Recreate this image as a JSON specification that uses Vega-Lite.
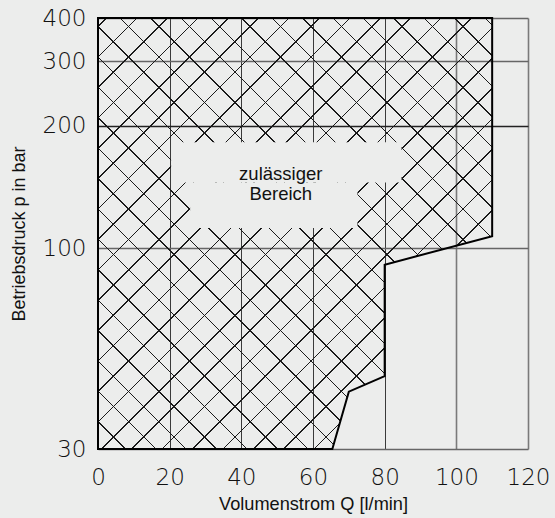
{
  "$schema": "https://vega.github.io/schema/vega-lite/v6.json",
  "width": 430,
  "height": 431,
  "autosize": {"type": "none"},
  "padding": {"left": 98, "top": 18, "right": 27, "bottom": 69},
  "background": "#ecedec",
  "config": {"view": {"stroke": null}},
  "datasets": {
    "region": [
      {"p": 30, "q": 65.4},
      {"p": 42.3, "q": 70},
      {"p": 46.4, "q": 80},
      {"p": 90.5, "q": 80},
      {"p": 106.9, "q": 110},
      {"p": 400, "q": 110}
    ],
    "cutout": [
      {"q": 20.4, "q2": 84.7, "p": 145, "p2": 182},
      {"q": 25.7, "q2": 72.4, "p": 112, "p2": 145}
    ],
    "label": [
      {"q": 51, "p": 152, "text": "zulässiger\nBereich"}
    ]
  },
  "encoding": {
    "x": {
      "field": "q",
      "type": "quantitative",
      "scale": {"domain": [0, 120], "nice": false, "zero": false},
      "axis": {
        "values": [0, 20, 40, 60, 80, 100, 120],
        "grid": true,
        "domain": false,
        "ticks": false,
        "tickSize": 0,
        "labelPadding": 17,
        "labelFlush": false,
        "labelOverlap": false,
        "labelFont": "DejaVu Sans",
        "labelFontWeight": 200,
        "labelFontSize": 23,
        "labelColor": "#111111",
        "title": "Volumenstrom Q [l/min]",
        "titleFont": "Liberation Sans",
        "titleFontSize": 18.2,
        "titleFontWeight": "normal",
        "titleColor": "#111111",
        "titleBaseline": "alphabetic",
        "titleY": 60.5,
        "gridColor": {"condition": {"test": "datum.value >= 100", "value": "#7a7a7a"}, "value": "#3a3a3a"},
        "gridWidth": {"condition": {"test": "datum.value >= 100", "value": 1.6}, "value": 1}
      }
    },
    "y": {
      "field": "p",
      "type": "quantitative",
      "scale": {"type": "log", "domain": [30, 100, 200, 300, 400], "range": [431, 230, 107.6, 43.3, 0], "nice": false},
      "axis": {
        "values": [30, 100, 200, 300, 400],
        "format": "d",
        "grid": true,
        "domain": false,
        "ticks": false,
        "tickSize": 0,
        "labelPadding": 12,
        "labelOverlap": false,
        "labelFlush": false,
        "labelFont": "DejaVu Sans",
        "labelFontWeight": 200,
        "labelFontSize": 23,
        "labelColor": "#111111",
        "title": "Betriebsdruck p in bar",
        "titleFont": "Liberation Sans",
        "titleFontSize": 18,
        "titleFontWeight": "normal",
        "titleColor": "#111111",
        "titleAngle": -90,
        "titleAlign": "center",
        "titleBaseline": "alphabetic",
        "titleX": -74,
        "titleY": 215.5,
        "gridColor": {"condition": {"test": "datum.value == 200", "value": "#222222"}, "value": "#666666"},
        "gridWidth": 1.3
      }
    }
  },
  "layer": [
    {
      "data": {"name": "region"},
      "mark": {
        "type": "area",
        "orient": "horizontal",
        "fill": {
          "gradient": "linear",
          "x1": 0, "y1": 0, "x2": 1, "y2": 1.09344,
          "stops": [
            {"offset": 0.00915, "color": "rgba(0,0,0,0)"}, {"offset": 0.00915, "color": "#1a1a1a"}, {"offset": 0.01095, "color": "#1a1a1a"}, {"offset": 0.01095, "color": "rgba(0,0,0,0)"},
            {"offset": 0.04428, "color": "rgba(0,0,0,0)"}, {"offset": 0.04428, "color": "#1a1a1a"}, {"offset": 0.04608, "color": "#1a1a1a"}, {"offset": 0.04608, "color": "rgba(0,0,0,0)"},
            {"offset": 0.07941, "color": "rgba(0,0,0,0)"}, {"offset": 0.07941, "color": "#1a1a1a"}, {"offset": 0.08121, "color": "#1a1a1a"}, {"offset": 0.08121, "color": "rgba(0,0,0,0)"},
            {"offset": 0.11453, "color": "rgba(0,0,0,0)"}, {"offset": 0.11453, "color": "#1a1a1a"}, {"offset": 0.11633, "color": "#1a1a1a"}, {"offset": 0.11633, "color": "rgba(0,0,0,0)"},
            {"offset": 0.14966, "color": "rgba(0,0,0,0)"}, {"offset": 0.14966, "color": "#1a1a1a"}, {"offset": 0.15146, "color": "#1a1a1a"}, {"offset": 0.15146, "color": "rgba(0,0,0,0)"},
            {"offset": 0.18479, "color": "rgba(0,0,0,0)"}, {"offset": 0.18479, "color": "#1a1a1a"}, {"offset": 0.18659, "color": "#1a1a1a"}, {"offset": 0.18659, "color": "rgba(0,0,0,0)"},
            {"offset": 0.21991, "color": "rgba(0,0,0,0)"}, {"offset": 0.21991, "color": "#1a1a1a"}, {"offset": 0.22171, "color": "#1a1a1a"}, {"offset": 0.22171, "color": "rgba(0,0,0,0)"},
            {"offset": 0.25504, "color": "rgba(0,0,0,0)"}, {"offset": 0.25504, "color": "#1a1a1a"}, {"offset": 0.25684, "color": "#1a1a1a"}, {"offset": 0.25684, "color": "rgba(0,0,0,0)"},
            {"offset": 0.29017, "color": "rgba(0,0,0,0)"}, {"offset": 0.29017, "color": "#1a1a1a"}, {"offset": 0.29197, "color": "#1a1a1a"}, {"offset": 0.29197, "color": "rgba(0,0,0,0)"},
            {"offset": 0.32529, "color": "rgba(0,0,0,0)"}, {"offset": 0.32529, "color": "#1a1a1a"}, {"offset": 0.32709, "color": "#1a1a1a"}, {"offset": 0.32709, "color": "rgba(0,0,0,0)"},
            {"offset": 0.36042, "color": "rgba(0,0,0,0)"}, {"offset": 0.36042, "color": "#1a1a1a"}, {"offset": 0.36222, "color": "#1a1a1a"}, {"offset": 0.36222, "color": "rgba(0,0,0,0)"},
            {"offset": 0.39555, "color": "rgba(0,0,0,0)"}, {"offset": 0.39555, "color": "#1a1a1a"}, {"offset": 0.39735, "color": "#1a1a1a"}, {"offset": 0.39735, "color": "rgba(0,0,0,0)"},
            {"offset": 0.43067, "color": "rgba(0,0,0,0)"}, {"offset": 0.43067, "color": "#1a1a1a"}, {"offset": 0.43247, "color": "#1a1a1a"}, {"offset": 0.43247, "color": "rgba(0,0,0,0)"},
            {"offset": 0.46580, "color": "rgba(0,0,0,0)"}, {"offset": 0.46580, "color": "#1a1a1a"}, {"offset": 0.46760, "color": "#1a1a1a"}, {"offset": 0.46760, "color": "rgba(0,0,0,0)"},
            {"offset": 0.50093, "color": "rgba(0,0,0,0)"}, {"offset": 0.50093, "color": "#1a1a1a"}, {"offset": 0.50273, "color": "#1a1a1a"}, {"offset": 0.50273, "color": "rgba(0,0,0,0)"},
            {"offset": 0.53605, "color": "rgba(0,0,0,0)"}, {"offset": 0.53605, "color": "#1a1a1a"}, {"offset": 0.53785, "color": "#1a1a1a"}, {"offset": 0.53785, "color": "rgba(0,0,0,0)"},
            {"offset": 0.57118, "color": "rgba(0,0,0,0)"}, {"offset": 0.57118, "color": "#1a1a1a"}, {"offset": 0.57298, "color": "#1a1a1a"}, {"offset": 0.57298, "color": "rgba(0,0,0,0)"},
            {"offset": 0.60631, "color": "rgba(0,0,0,0)"}, {"offset": 0.60631, "color": "#1a1a1a"}, {"offset": 0.60811, "color": "#1a1a1a"}, {"offset": 0.60811, "color": "rgba(0,0,0,0)"},
            {"offset": 0.64143, "color": "rgba(0,0,0,0)"}, {"offset": 0.64143, "color": "#1a1a1a"}, {"offset": 0.64323, "color": "#1a1a1a"}, {"offset": 0.64323, "color": "rgba(0,0,0,0)"},
            {"offset": 0.67656, "color": "rgba(0,0,0,0)"}, {"offset": 0.67656, "color": "#1a1a1a"}, {"offset": 0.67836, "color": "#1a1a1a"}, {"offset": 0.67836, "color": "rgba(0,0,0,0)"},
            {"offset": 0.71169, "color": "rgba(0,0,0,0)"}, {"offset": 0.71169, "color": "#1a1a1a"}, {"offset": 0.71349, "color": "#1a1a1a"}, {"offset": 0.71349, "color": "rgba(0,0,0,0)"},
            {"offset": 0.74681, "color": "rgba(0,0,0,0)"}, {"offset": 0.74681, "color": "#1a1a1a"}, {"offset": 0.74861, "color": "#1a1a1a"}, {"offset": 0.74861, "color": "rgba(0,0,0,0)"},
            {"offset": 0.78194, "color": "rgba(0,0,0,0)"}, {"offset": 0.78194, "color": "#1a1a1a"}, {"offset": 0.78374, "color": "#1a1a1a"}, {"offset": 0.78374, "color": "rgba(0,0,0,0)"},
            {"offset": 0.81707, "color": "rgba(0,0,0,0)"}, {"offset": 0.81707, "color": "#1a1a1a"}, {"offset": 0.81887, "color": "#1a1a1a"}, {"offset": 0.81887, "color": "rgba(0,0,0,0)"},
            {"offset": 0.85219, "color": "rgba(0,0,0,0)"}, {"offset": 0.85219, "color": "#1a1a1a"}, {"offset": 0.85399, "color": "#1a1a1a"}, {"offset": 0.85399, "color": "rgba(0,0,0,0)"},
            {"offset": 0.88732, "color": "rgba(0,0,0,0)"}, {"offset": 0.88732, "color": "#1a1a1a"}, {"offset": 0.88912, "color": "#1a1a1a"}, {"offset": 0.88912, "color": "rgba(0,0,0,0)"},
            {"offset": 0.92245, "color": "rgba(0,0,0,0)"}, {"offset": 0.92245, "color": "#1a1a1a"}, {"offset": 0.92425, "color": "#1a1a1a"}, {"offset": 0.92425, "color": "rgba(0,0,0,0)"}
          ]
        }
      },
      "encoding": {
        "x": {"field": "q", "type": "quantitative", "stack": null},
        "x2": {"datum": 0}
      }
    },
    {
      "data": {"name": "region"},
      "mark": {
        "type": "area",
        "orient": "horizontal",
        "fill": {
          "gradient": "linear",
          "x1": 0, "y1": 1, "x2": 1, "y2": -0.09344,
          "stops": [
            {"offset": 0.03076, "color": "rgba(0,0,0,0)"}, {"offset": 0.03076, "color": "#1a1a1a"}, {"offset": 0.03256, "color": "#1a1a1a"}, {"offset": 0.03256, "color": "rgba(0,0,0,0)"},
            {"offset": 0.06589, "color": "rgba(0,0,0,0)"}, {"offset": 0.06589, "color": "#1a1a1a"}, {"offset": 0.06769, "color": "#1a1a1a"}, {"offset": 0.06769, "color": "rgba(0,0,0,0)"},
            {"offset": 0.10101, "color": "rgba(0,0,0,0)"}, {"offset": 0.10101, "color": "#1a1a1a"}, {"offset": 0.10281, "color": "#1a1a1a"}, {"offset": 0.10281, "color": "rgba(0,0,0,0)"},
            {"offset": 0.13614, "color": "rgba(0,0,0,0)"}, {"offset": 0.13614, "color": "#1a1a1a"}, {"offset": 0.13794, "color": "#1a1a1a"}, {"offset": 0.13794, "color": "rgba(0,0,0,0)"},
            {"offset": 0.17127, "color": "rgba(0,0,0,0)"}, {"offset": 0.17127, "color": "#1a1a1a"}, {"offset": 0.17307, "color": "#1a1a1a"}, {"offset": 0.17307, "color": "rgba(0,0,0,0)"},
            {"offset": 0.20639, "color": "rgba(0,0,0,0)"}, {"offset": 0.20639, "color": "#1a1a1a"}, {"offset": 0.20819, "color": "#1a1a1a"}, {"offset": 0.20819, "color": "rgba(0,0,0,0)"},
            {"offset": 0.24152, "color": "rgba(0,0,0,0)"}, {"offset": 0.24152, "color": "#1a1a1a"}, {"offset": 0.24332, "color": "#1a1a1a"}, {"offset": 0.24332, "color": "rgba(0,0,0,0)"},
            {"offset": 0.27665, "color": "rgba(0,0,0,0)"}, {"offset": 0.27665, "color": "#1a1a1a"}, {"offset": 0.27845, "color": "#1a1a1a"}, {"offset": 0.27845, "color": "rgba(0,0,0,0)"},
            {"offset": 0.31177, "color": "rgba(0,0,0,0)"}, {"offset": 0.31177, "color": "#1a1a1a"}, {"offset": 0.31357, "color": "#1a1a1a"}, {"offset": 0.31357, "color": "rgba(0,0,0,0)"},
            {"offset": 0.34690, "color": "rgba(0,0,0,0)"}, {"offset": 0.34690, "color": "#1a1a1a"}, {"offset": 0.34870, "color": "#1a1a1a"}, {"offset": 0.34870, "color": "rgba(0,0,0,0)"},
            {"offset": 0.38203, "color": "rgba(0,0,0,0)"}, {"offset": 0.38203, "color": "#1a1a1a"}, {"offset": 0.38383, "color": "#1a1a1a"}, {"offset": 0.38383, "color": "rgba(0,0,0,0)"},
            {"offset": 0.41715, "color": "rgba(0,0,0,0)"}, {"offset": 0.41715, "color": "#1a1a1a"}, {"offset": 0.41895, "color": "#1a1a1a"}, {"offset": 0.41895, "color": "rgba(0,0,0,0)"},
            {"offset": 0.45228, "color": "rgba(0,0,0,0)"}, {"offset": 0.45228, "color": "#1a1a1a"}, {"offset": 0.45408, "color": "#1a1a1a"}, {"offset": 0.45408, "color": "rgba(0,0,0,0)"},
            {"offset": 0.48741, "color": "rgba(0,0,0,0)"}, {"offset": 0.48741, "color": "#1a1a1a"}, {"offset": 0.48921, "color": "#1a1a1a"}, {"offset": 0.48921, "color": "rgba(0,0,0,0)"},
            {"offset": 0.52253, "color": "rgba(0,0,0,0)"}, {"offset": 0.52253, "color": "#1a1a1a"}, {"offset": 0.52433, "color": "#1a1a1a"}, {"offset": 0.52433, "color": "rgba(0,0,0,0)"},
            {"offset": 0.55766, "color": "rgba(0,0,0,0)"}, {"offset": 0.55766, "color": "#1a1a1a"}, {"offset": 0.55946, "color": "#1a1a1a"}, {"offset": 0.55946, "color": "rgba(0,0,0,0)"},
            {"offset": 0.59279, "color": "rgba(0,0,0,0)"}, {"offset": 0.59279, "color": "#1a1a1a"}, {"offset": 0.59459, "color": "#1a1a1a"}, {"offset": 0.59459, "color": "rgba(0,0,0,0)"},
            {"offset": 0.62791, "color": "rgba(0,0,0,0)"}, {"offset": 0.62791, "color": "#1a1a1a"}, {"offset": 0.62971, "color": "#1a1a1a"}, {"offset": 0.62971, "color": "rgba(0,0,0,0)"},
            {"offset": 0.66304, "color": "rgba(0,0,0,0)"}, {"offset": 0.66304, "color": "#1a1a1a"}, {"offset": 0.66484, "color": "#1a1a1a"}, {"offset": 0.66484, "color": "rgba(0,0,0,0)"},
            {"offset": 0.69817, "color": "rgba(0,0,0,0)"}, {"offset": 0.69817, "color": "#1a1a1a"}, {"offset": 0.69997, "color": "#1a1a1a"}, {"offset": 0.69997, "color": "rgba(0,0,0,0)"},
            {"offset": 0.73329, "color": "rgba(0,0,0,0)"}, {"offset": 0.73329, "color": "#1a1a1a"}, {"offset": 0.73509, "color": "#1a1a1a"}, {"offset": 0.73509, "color": "rgba(0,0,0,0)"},
            {"offset": 0.76842, "color": "rgba(0,0,0,0)"}, {"offset": 0.76842, "color": "#1a1a1a"}, {"offset": 0.77022, "color": "#1a1a1a"}, {"offset": 0.77022, "color": "rgba(0,0,0,0)"},
            {"offset": 0.80355, "color": "rgba(0,0,0,0)"}, {"offset": 0.80355, "color": "#1a1a1a"}, {"offset": 0.80535, "color": "#1a1a1a"}, {"offset": 0.80535, "color": "rgba(0,0,0,0)"},
            {"offset": 0.83867, "color": "rgba(0,0,0,0)"}, {"offset": 0.83867, "color": "#1a1a1a"}, {"offset": 0.84047, "color": "#1a1a1a"}, {"offset": 0.84047, "color": "rgba(0,0,0,0)"},
            {"offset": 0.87380, "color": "rgba(0,0,0,0)"}, {"offset": 0.87380, "color": "#1a1a1a"}, {"offset": 0.87560, "color": "#1a1a1a"}, {"offset": 0.87560, "color": "rgba(0,0,0,0)"},
            {"offset": 0.90893, "color": "rgba(0,0,0,0)"}, {"offset": 0.90893, "color": "#1a1a1a"}, {"offset": 0.91073, "color": "#1a1a1a"}, {"offset": 0.91073, "color": "rgba(0,0,0,0)"},
            {"offset": 0.94406, "color": "rgba(0,0,0,0)"}, {"offset": 0.94406, "color": "#1a1a1a"}, {"offset": 0.94586, "color": "#1a1a1a"}, {"offset": 0.94586, "color": "rgba(0,0,0,0)"}
          ]
        }
      },
      "encoding": {
        "x": {"field": "q", "type": "quantitative", "stack": null},
        "x2": {"datum": 0}
      }
    },
    {
      "data": {"name": "cutout"},
      "mark": {"type": "rect", "fill": "#ecedec", "strokeWidth": 0},
      "encoding": {
        "x2": {"field": "q2"},
        "y2": {"field": "p2"}
      }
    },
    {
      "data": {"name": "region"},
      "mark": {"type": "area", "orient": "horizontal", "fill": null, "fillOpacity": 0, "stroke": "#000000", "strokeWidth": 2, "strokeJoin": "miter"},
      "encoding": {
        "x": {"field": "q", "type": "quantitative", "stack": null},
        "x2": {"datum": 0}
      }
    },
    {
      "data": {"name": "label"},
      "mark": {"type": "text", "font": "Liberation Sans", "fontSize": 18.5, "lineBreak": "\n", "lineHeight": 20, "align": "center", "baseline": "middle", "color": "#111111"},
      "encoding": {
        "text": {"field": "text"}
      }
    }
  ]
}
